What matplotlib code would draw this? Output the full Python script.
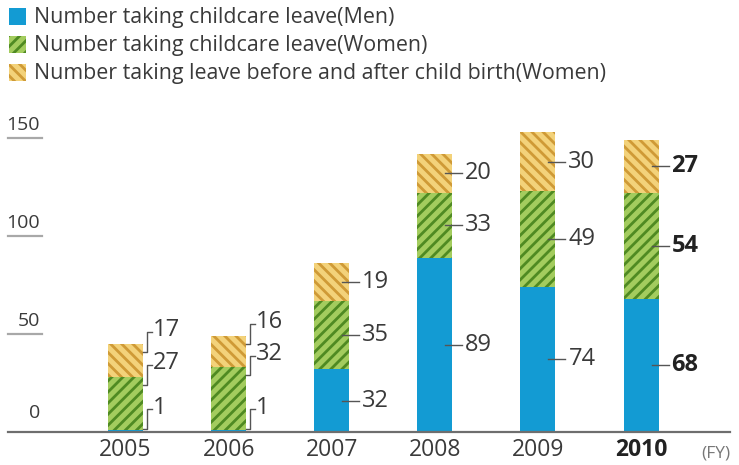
import matplotlib
matplotlib.use("Agg")
import matplotlib.pyplot as plt
import matplotlib.transforms as mtransforms
from matplotlib.patches import Rectangle

# data
years = ["2005", "2006", "2007", "2008", "2009", "2010"]
men_childcare = [1, 1, 32, 89, 74, 68]
women_childcare = [27, 32, 35, 33, 49, 54]
women_birth = [17, 16, 19, 20, 30, 27]
series_names = ["Number taking childcare leave(Men)",
                "Number taking childcare leave(Women)",
                "Number taking leave before and after child birth(Women)"]
y_ticks = [0, 50, 100, 150]

plt.rcParams["font.family"] = ["Open Sans", "Noto Sans", "DejaVu Sans"]
plt.rcParams["hatch.linewidth"] = 2.0

BLUE = "#139bd3"
GREEN, GREEN_DARK = "#a3cc5e", "#4f8a22"
ORANGE, ORANGE_DARK = "#f3d27a", "#cf9a36"
TXT = "#3a3a3a"

W, H = 739, 465
fig = plt.figure(figsize=(W / 100, H / 100), dpi=100)


def fx(px):
    return px / W


def fy(py):
    return 1 - py / H


# axes placed in pixel terms: baseline at y=432, 1.96 px per unit
ax = fig.add_axes([fx(8), fy(432), (730 - 8) / W, 160 * 1.96 / H])
xmin, xmax = -1.14, 5.863
ax.set_xlim(xmin, xmax)
ax.set_ylim(0, 160)
ppu = 722 / (xmax - xmin)  # pixels per x unit
width = 35 / ppu

x = list(range(len(years)))
bottom2 = [m for m in men_childcare]
bottom3 = [m + w for m, w in zip(men_childcare, women_childcare)]

ax.bar(x, men_childcare, width, color=BLUE, lw=0)
ax.bar(x, women_childcare, width, bottom=bottom2, color=GREEN,
       edgecolor=GREEN_DARK, hatch="///", lw=0)
ax.bar(x, women_birth, width, bottom=bottom3, color=ORANGE,
       edgecolor=ORANGE_DARK, hatch="\\\\\\", lw=0)

for s in ["top", "right", "left"]:
    ax.spines[s].set_visible(False)
ax.spines["bottom"].set_color("#6e6e6e")
ax.spines["bottom"].set_linewidth(1.6)
ax.set_yticks([])
ax.set_xticks(x)
ax.set_xticklabels(years, fontsize=16.5, color=TXT)
ax.tick_params(axis="x", length=0, pad=4)
ax.get_xticklabels()[-1].set_fontweight("bold")
ax.get_xticklabels()[-1].set_color("#222222")

# y labels with short underlines
blend = mtransforms.blended_transform_factory(ax.transAxes, ax.transData)
for t in y_ticks:
    if t > 0:
        ax.plot([0, 34 / 722], [t, t], color="#a8a8a8", lw=1.6,
                transform=blend, clip_on=False)
    off = 7 if t == 0 else 3
    ax.annotate(str(t), (32 / 722, t), xycoords=blend,
                xytext=(0, off), textcoords="offset points",
                ha="right", va="bottom", fontsize=14, color=TXT)

# value labels
for i in x:
    bold = i == len(years) - 1
    right = i + width / 2
    segs = [(0, men_childcare[i]), (bottom2[i], women_childcare[i]),
            (bottom3[i], women_birth[i])]
    for b, v in segs:
        kw = dict(fontsize=17, color="#222222" if bold else TXT,
                  fontweight="bold" if bold else "normal", va="center")
        if men_childcare[i] < 5:
            top = b + v
            y0 = max(top - 4, b + 1.5)
            y1 = y0 + 10
            xs = [right, right + 4 / ppu, right + 4 / ppu, right + 9 / ppu]
            ax.plot(xs, [y0, y0, y1, y1], color="#555555", lw=1, clip_on=False)
            ax.text(right + 10 / ppu, y1 + 1, str(v), **kw)
        else:
            ym = b + v / 2
            ax.plot([right - 7 / ppu, right + 10 / ppu], [ym, ym],
                    color="#555555", lw=1, clip_on=False)
            ax.text(right + 13 / ppu, ym, str(v), **kw)

fig.text(fx(701), fy(453), "(FY)", fontsize=12.5, color="#777777",
         ha="left", va="center")

# legend drawn by hand
styles = [dict(facecolor=BLUE, lw=0),
          dict(facecolor=GREEN, edgecolor=GREEN_DARK, hatch="///", lw=0),
          dict(facecolor=ORANGE, edgecolor=ORANGE_DARK, hatch="\\\\\\", lw=0)]
rows = [17, 45, 73]
for name, st, ry in zip(series_names, styles, rows):
    fig.add_artist(Rectangle((fx(9), fy(ry + 8.5)), 17 / W, 17 / H,
                             transform=fig.transFigure, **st))
    fig.text(fx(34), fy(ry), name, fontsize=15.4, color=TXT,
             ha="left", va="center")

fig.savefig("out.png", dpi=100)
